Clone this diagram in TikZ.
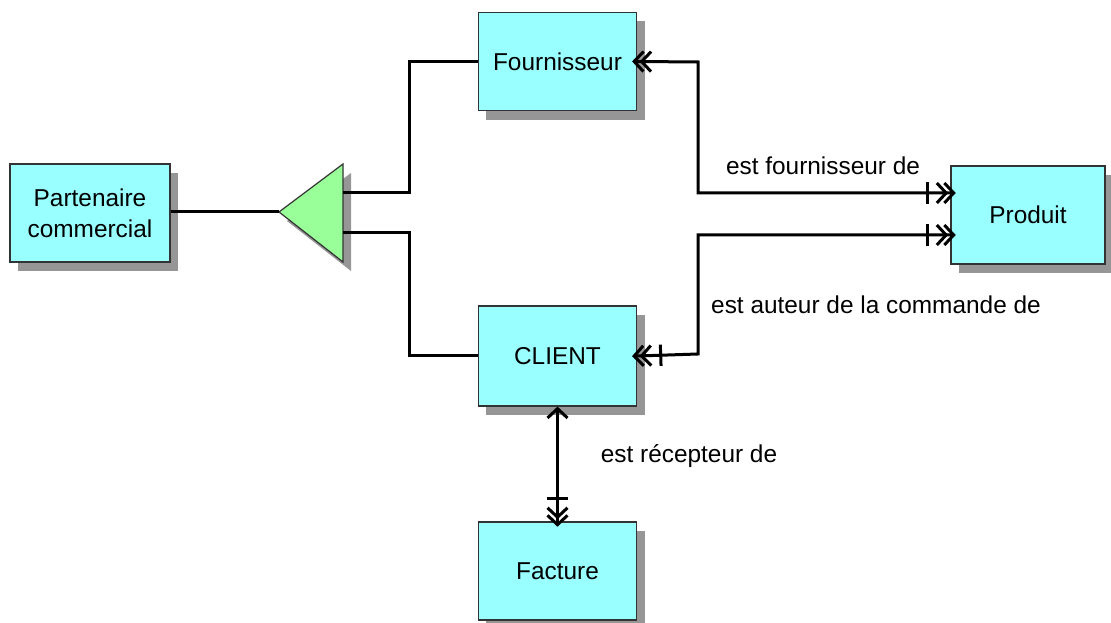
\documentclass[tikz,border=0pt]{standalone}
\usepackage{fontspec}
\setmainfont{Liberation Sans}
\usepackage{xcolor}
\definecolor{erCyan}{RGB}{153,255,255}
\definecolor{erGreen}{RGB}{153,255,153}
\definecolor{erShadow}{RGB}{150,150,150}
\usetikzlibrary{positioning,arrows.meta,shadows}
\begin{document}
\begin{tikzpicture}[x=0.75pt,y=-0.75pt,
  sh/.style={drop shadow={shadow xshift=6pt,shadow yshift=-6.75pt,fill=erShadow,opacity=1}},
  ent/.style={draw=black!80,fill=erCyan,line width=0.9pt,sh,font=\fontsize{18.3}{23}\selectfont,align=center,inner sep=0pt},
  lbl/.style={font=\fontsize{18.3}{23}\selectfont,inner sep=0pt},
  ln/.style={line width=2.25pt,black},
  many/.tip={Straight Barb[length=7pt,width=15pt,sep=-4pt]},
  one/.tip={Bar[width=16pt,sep=5pt]},
  rel/.style={ln,line join=miter}]
  \useasboundingbox (0,0) rectangle (1111,623);
  \node[ent,minimum width=120pt,minimum height=73.5pt] (part) at (90,213) {Partenaire\\commercial};
  \node[ent,minimum width=119pt,minimum height=74pt] (four) at (557.5,61.5) {Fournisseur};
  \node[ent,minimum width=115.5pt,minimum height=73.5pt] (prod) at (1028,215) {Produit};
  \node[ent,minimum width=119pt,minimum height=75pt] (client) at (557.5,356) {CLIENT};
  \node[ent,minimum width=119pt,minimum height=73.5pt] (fact) at (557.5,571) {Facture};
  \coordinate (apex) at (279,212);
  \coordinate (top) at (343,164);
  \coordinate (bot) at (343,262);
  \filldraw[draw=black!80,fill=erGreen,line width=0.9pt,sh] (apex) -- (top) -- (bot) -- cycle;
  \draw[ln] (part.east |- apex) -- (apex);
  \draw[rel] (343,193) -- (409,193) |- (four.west);
  \draw[rel] (343,233) -- (409,233) |- (client.west);
  \draw[rel,{many[]many[]}-{one[]many[]many[]}] (four.east) -- (698,62) |- ([yshift=16.5pt]prod.west);
  \draw[rel,{many[]many[]one[]}-{one[]many[]many[]}] (client.east) -- (698,354) |- ([yshift=-15pt]prod.west);
  \draw[rel,{Straight Barb[length=7pt,width=15pt]}-{one[]many[]many[]}] (client.south) -- (fact.north);
  \node[lbl] (l1) at (823,166) {est fournisseur de};
  \node[lbl] (l2) at (876,305) {est auteur de la commande de};
  \node[lbl] (l3) at (689,456) {est récepteur de};
\end{tikzpicture}
\end{document}
